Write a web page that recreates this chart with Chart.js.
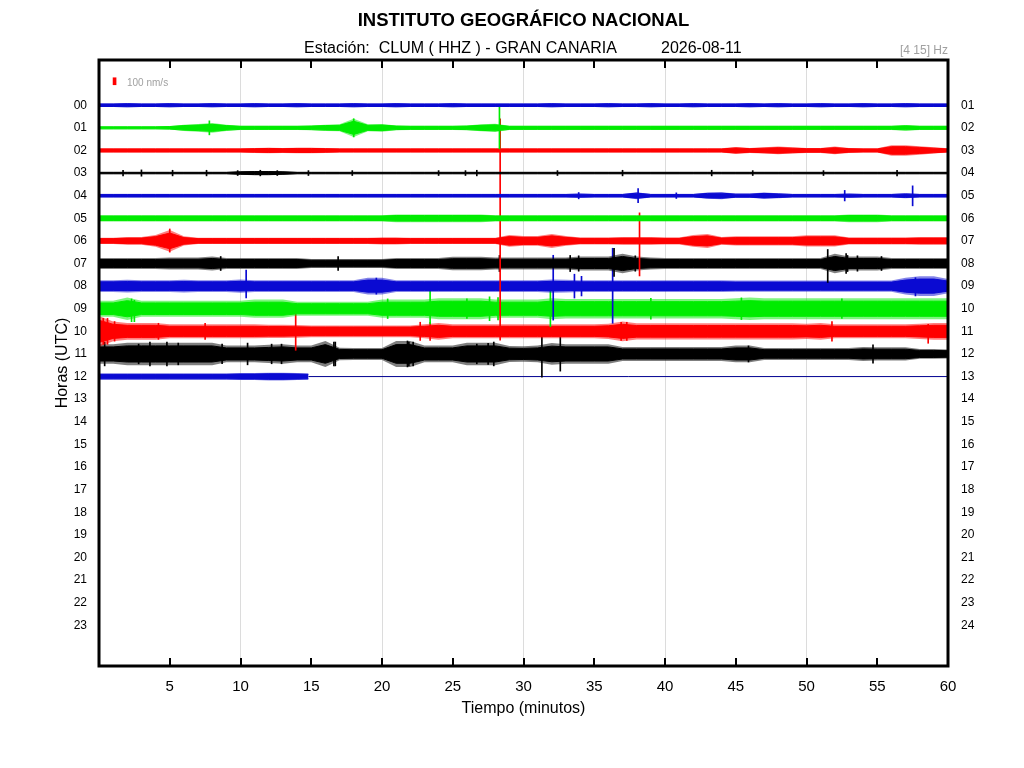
<!DOCTYPE html>
<html>
<head>
<meta charset="utf-8">
<title>Helicorder CLUM</title>
<script src="https://cdn.jsdelivr.net/npm/chart.js@4.4.1/dist/chart.umd.min.js"></script>
<style>
  html, body { margin: 0; padding: 0; background: #fff; }
  canvas { display: block; }
</style>
</head>
<body>
<canvas id="heli" width="1024" height="768"></canvas>
<script>
// sample times (minutes) of the trace envelopes
const minutes = [0,1,2,3,4,5,6,7,8,9,10,11,12,13,14,15,16,17,18,19,20,
  21,22,23,24,25,26,27,28,29,30,31,32,33,34,35,36,37,38,39,40,
  41,42,43,44,45,46,47,48,49,50,51,52,53,54,55,56,57,58,59,60];
const minutes12 = [0,1,2,3,4,5,6,7,8,9,10,11,12,13,14,14.8];
const row12End = 14.8;

const xTicks = [0,5,10,15,20,25,30,35,40,45,50,55,60];
const hourValues = [0,1,2,3,4,5,6,7,8,9,10,11,12,13,14,15,16,17,18,19,20,21,22,23];
const hourLabelsLeft = ['00','01','02','03','04','05','06','07','08','09','10','11',
  '12','13','14','15','16','17','18','19','20','21','22','23'];
const hourLabelsRight = ['01','02','03','04','05','06','07','08','09','10','11','12',
  '13','14','15','16','17','18','19','20','21','22','23','24'];

// half amplitude of each trace (nm/s), one value per minute
const amp00 = [25,25,30,25,25,30,25,25,30,25, 25,30,25,25,30,25,25,25,30,25,
  25,30,25,25,25,30,25,25,25,25, 25,25,30,25,25,25,30,25,25,30,
  25,25,30,25,25,25,30,25,30,25, 25,30,25,25,30,25,25,30,25,25, 25];
const amp01 = [20,20,20,20,20,25,45,55,70,45, 30,30,30,30,30,35,45,50,130,50,
  55,35,30,30,30,30,35,50,60,30, 30,30,30,30,30,30,30,30,30,30,
  30,30,30,30,30,30,30,30,30,30, 30,30,30,30,30,30,30,40,30,30, 30];
const amp02 = [30,30,30,30,30,30,30,30,30,30, 30,35,40,35,40,40,35,30,30,30,
  30,30,30,30,30,30,30,30,30,30, 30,30,30,30,30,30,30,30,30,30,
  30,30,30,30,30,50,35,45,55,45, 35,35,55,35,30,30,75,75,60,45, 30];
const amp03 = [15,15,15,15,15,15,15,15,15,15, 25,30,30,25,15,15,15,15,15,15,
  15,15,15,15,15,15,15,15,15,15, 15,15,15,15,15,15,15,15,15,15,
  15,15,15,15,15,15,15,15,15,15, 15,15,15,15,15,15,15,15,15,15, 15];
const amp04 = [25,25,25,25,25,25,25,25,25,25, 25,25,25,25,25,25,25,25,25,25,
  25,25,25,25,25,25,25,25,25,25, 25,25,25,25,30,25,25,25,50,25,
  25,25,25,45,50,30,30,45,35,25, 25,25,25,30,25,25,25,35,25,25, 25];
const amp05 = [45,45,45,45,45,45,45,45,45,45, 45,45,45,45,45,45,45,45,45,45,
  45,55,55,55,55,55,55,55,45,45, 45,45,45,45,45,45,45,45,45,45,
  45,45,45,45,45,45,45,45,45,45, 45,45,45,55,55,55,45,45,45,45, 45];
const amp06 = [45,45,55,55,85,155,65,45,45,45, 45,45,45,45,45,45,45,45,45,45,
  50,50,45,45,45,45,45,45,45,85, 70,70,100,70,50,50,50,55,55,55,
  50,50,85,100,55,65,65,65,65,65, 80,80,80,50,50,50,50,50,55,55, 55];
const amp07 = [80,80,80,80,80,85,85,85,100,80, 80,80,80,80,80,65,65,65,65,65,
  65,80,80,80,80,95,95,95,85,85, 85,85,85,85,100,100,100,140,100,85,
  80,80,80,80,80,80,80,80,80,80, 80,80,140,100,100,100,80,80,80,80, 80];
const amp08 = [85,85,90,85,85,85,90,85,85,85, 95,85,85,85,85,85,85,85,85,120,
  120,85,85,85,85,85,85,85,85,85, 85,85,95,90,85,85,85,85,85,85,
  85,85,85,85,85,80,80,80,80,80, 80,80,80,80,80,80,80,120,140,140, 100];
const amp09 = [115,115,160,115,115,115,115,115,115,115, 115,130,130,130,100,100,100,100,100,100,
  130,130,130,130,150,150,150,150,130,130, 130,130,150,140,140,140,140,140,140,140,
  140,140,140,140,140,150,160,150,150,150, 150,150,150,150,150,150,150,150,150,150, 150];
const amp10 = [220,140,120,120,120,100,100,100,100,100, 100,100,95,95,90,85,85,85,85,85,
  85,85,85,100,120,100,100,100,100,100, 100,100,100,100,100,100,110,140,115,115,
  115,115,115,115,115,115,115,115,115,115, 110,120,100,100,100,100,100,100,110,120, 120];
const amp11 = [140,140,160,160,160,160,160,160,160,120, 120,120,130,140,120,120,185,90,85,85,
  85,185,185,120,120,120,160,160,160,115, 110,120,155,140,140,140,140,100,100,100,
  100,100,100,100,100,120,120,85,85,85, 85,85,85,85,100,95,95,95,70,70, 65];
const amp12 = [45,45,45,45,45,45,45,45,45,45,50,50,55,55,50,45];

// sharp arrivals: [minute, up nm/s, down nm/s]
const spikes00 = [];
const spikes01 = [[7.8,100,100],[18.0,130,130],[28.3,315,300]];
const spikes02 = [];
const spikes03 = [[1.7,40,40],[3.0,45,45],[5.2,40,40],[7.6,40,40],[9.8,35,35],[11.4,40,40],
  [12.6,35,35],[14.8,35,35],[17.9,35,35],[24.0,35,35],[25.9,35,35],[26.7,40,40],
  [32.4,35,35],[37.0,40,40],[43.3,40,40],[46.2,35,35],[51.2,35,35],[56.4,40,40]];
const spikes04 = [[33.9,45,45],[38.1,100,100],[40.8,40,40],[52.7,75,75],[57.5,140,145]];
const spikes05 = [];
const spikes06 = [[5.0,170,160],[28.35,1740,1415],[38.2,400,500]];
const spikes07 = [[8.6,100,100],[16.9,100,100],[28.3,115,115],[33.3,115,115],[33.9,110,110],
  [36.4,215,185],[37.9,110,110],[51.5,200,270],[52.8,140,140],[52.9,115,115],[53.6,110,110],[55.3,100,100]];
const spikes08 = [[10.4,230,170],[19.6,115,115],[32.1,440,485],[33.6,170,170],[34.1,140,140],
  [36.3,540,530],[57.7,120,140]];
const spikes09 = [[2.3,140,185],[2.5,120,185],[20.4,140,140],[23.4,285,215],[26.0,140,140],
  [27.6,170,170],[28.2,160,160],[31.9,270,255],[39.0,150,150],[45.4,155,155],[52.5,140,140]];
const spikes10 = [[0.3,185,185],[0.6,185,185],[1.1,140,140],[4.2,115,115],[7.5,115,115],
  [13.9,400,270],[22.7,130,130],[23.4,130,130],[36.9,130,130],[37.3,130,130],[51.8,140,140],[58.6,100,170]];
const spikes11 = [[0.4,170,170],[2.8,140,140],[3.6,170,170],[4.8,170,170],[5.6,155,155],[8.7,140,140],
  [10.5,155,155],[12.2,140,140],[12.9,140,140],[16.6,170,170],[16.7,170,170],[21.8,185,185],[21.9,170,170],
  [22.2,170,170],[26.7,140,140],[27.5,150,150],[27.9,170,170],[31.3,315,330],[32.6,245,245],
  [45.9,115,115],[54.7,130,130]];
const spikes12 = [];

const scaleBarNms = 100;
const unitsPerNms = 0.31 / 100;   // 100 nm/s is about 0.31 of a row spacing
const coreShare = 0.72;           // dense part of the wiggles, drawn solid

const BLUE = [10, 10, 210], GREEN = [0, 236, 0], RED = [255, 0, 0], BLACK = [0, 0, 0];
const FONT = '"Liberation Sans", Arial, sans-serif';

function rgba(c, a) { return 'rgba(' + c[0] + ',' + c[1] + ',' + c[2] + ',' + a + ')'; }

const rows = [
  [0, BLUE, amp00, spikes00], [1, GREEN, amp01, spikes01], [2, RED, amp02, spikes02],
  [3, BLACK, amp03, spikes03], [4, BLUE, amp04, spikes04], [5, GREEN, amp05, spikes05],
  [6, RED, amp06, spikes06], [7, BLACK, amp07, spikes07], [8, BLUE, amp08, spikes08],
  [9, GREEN, amp09, spikes09], [10, RED, amp10, spikes10], [11, BLACK, amp11, spikes11],
  [12, BLUE, amp12, spikes12]
];

function band(t, hour, amp, share, sign) {
  return t.map(function(m, i) { return {x: m, y: hour + sign * amp[i] * share * unitsPerNms}; });
}

const datasets = [];
rows.forEach(function(r) {
  const hour = r[0], color = r[1], amp = r[2], spikes = r[3];
  const t = hour === 12 ? minutes12 : minutes;
  // outer envelope: the sparse peaks, lighter
  datasets.push({
    type: 'line', xAxisID: 'x', yAxisID: 'y', data: band(t, hour, amp, 1, -1),
    borderWidth: 0, borderColor: 'rgba(0,0,0,0)', pointRadius: 0, tension: 0, fill: false
  });
  datasets.push({
    type: 'line', xAxisID: 'x', yAxisID: 'y', data: band(t, hour, amp, 1, 1),
    borderWidth: 0, borderColor: 'rgba(0,0,0,0)', backgroundColor: rgba(color, 0.5),
    pointRadius: 0, tension: 0, fill: '-1'
  });
  // dense core
  datasets.push({
    type: 'line', xAxisID: 'x', yAxisID: 'y', data: band(t, hour, amp, coreShare, -1),
    borderColor: rgba(color, 1), borderWidth: 1, pointRadius: 0, tension: 0, fill: false
  });
  datasets.push({
    type: 'line', xAxisID: 'x', yAxisID: 'y', data: band(t, hour, amp, coreShare, 1),
    borderColor: rgba(color, 1), backgroundColor: rgba(color, 1), borderWidth: 1,
    pointRadius: 0, tension: 0, fill: '-1'
  });
  if (spikes.length) {
    datasets.push({
      type: 'bar', xAxisID: 'x', yAxisID: 'y',
      data: spikes.map(function(s) {
        return {x: s[0], y: [hour - s[1] * unitsPerNms, hour + s[2] * unitsPerNms]};
      }),
      backgroundColor: rgba(color, 1), borderWidth: 0, barThickness: 1, grouped: false
    });
  }
});

// hour 12 is still recording: flat line up to the end of the hour
datasets.push({
  type: 'line', xAxisID: 'x', yAxisID: 'y',
  data: [{x: row12End, y: 12}, {x: 60, y: 12}],
  borderColor: '#000090', borderWidth: 1, pointRadius: 0, fill: false
});

// amplitude scale bar
datasets.push({
  type: 'bar', xAxisID: 'x', yAxisID: 'y',
  data: [{x: 1.1, y: [-1.06 - scaleBarNms * unitsPerNms / 2, -1.06 + scaleBarNms * unitsPerNms / 2]}],
  backgroundColor: rgba(RED, 1), borderWidth: 0, barThickness: 3, grouped: false
});

const heliDecor = {
  id: 'heliDecor',
  afterDraw: function(chart) {
    const ctx = chart.ctx, a = chart.chartArea, xs = chart.scales.x;
    ctx.save();
    ctx.strokeStyle = '#000';
    ctx.lineWidth = 3;
    ctx.strokeRect(a.left, a.top, a.right - a.left, a.bottom - a.top);
    ctx.lineWidth = 2;
    xTicks.forEach(function(v) {
      if (v <= 0 || v >= 60) return;
      const px = Math.round(xs.getPixelForValue(v));
      ctx.beginPath();
      ctx.moveTo(px, a.top); ctx.lineTo(px, a.top + 8);
      ctx.moveTo(px, a.bottom); ctx.lineTo(px, a.bottom - 8);
      ctx.stroke();
    });

    ctx.fillStyle = '#000';
    ctx.textBaseline = 'alphabetic';
    ctx.textAlign = 'center';
    ctx.font = 'bold 18.5px ' + FONT;
    ctx.fillText('INSTITUTO GEOGRÁFICO NACIONAL', (a.left + a.right) / 2, 26);
    ctx.textAlign = 'left';
    ctx.font = '16px ' + FONT;
    ctx.fillText('Estación:  CLUM ( HHZ ) - GRAN CANARIA', 304, 52.5);
    ctx.fillText('2026-08-11', 661, 52.5);

    ctx.fillStyle = '#a0a0a0';
    ctx.textAlign = 'right';
    ctx.font = '12px ' + FONT;
    ctx.fillText('[4 15] Hz', a.right, 54);
    ctx.textAlign = 'left';
    ctx.font = '10px ' + FONT;
    ctx.fillText(scaleBarNms + ' nm/s', 127, 86);
    ctx.restore();
  }
};

const ctx = document.getElementById('heli').getContext('2d');
new Chart(ctx, {
  type: 'line',
  data: { datasets: datasets },
  options: {
    responsive: false,
    animation: false,
    events: [],
    layout: { padding: 0 },
    plugins: { legend: { display: false }, tooltip: { enabled: false } },
    scales: {
      x: {
        type: 'linear', position: 'bottom', min: 0, max: 60, offset: false,
        afterBuildTicks: function(s) { s.ticks = xTicks.map(function(v) { return {value: v}; }); },
        afterFit: function(s) { s.height = 102; },
        ticks: {
          padding: 12, color: '#000', autoSkip: false, maxRotation: 0,
          font: { family: FONT, size: 15 },
          callback: function(v) { return v === 0 ? '' : String(v); }
        },
        grid: {
          offset: false, drawTicks: false, lineWidth: 1,
          color: function(c) {
            const v = c.tick ? c.tick.value : 0;
            return (v % 10 === 0 && v > 0 && v < 60) ? '#dcdcdc' : 'rgba(0,0,0,0)';
          }
        },
        border: { display: false },
        title: { display: true, text: 'Tiempo (minutos)', color: '#000',
          font: { family: FONT, size: 16 }, padding: { top: 0, bottom: 50 } }
      },
      xTop: {
        type: 'linear', position: 'top', min: 0, max: 60, display: true,
        ticks: { display: false }, grid: { display: false }, border: { display: false },
        afterFit: function(s) { s.height = 60; }
      },
      y: {
        type: 'linear', position: 'left', min: -2, max: 24.8, reverse: true,
        afterBuildTicks: function(s) { s.ticks = hourValues.map(function(v) { return {value: v}; }); },
        afterFit: function(s) { s.width = 99; },
        ticks: {
          padding: 4, color: '#000', autoSkip: false,
          font: { family: FONT, size: 12 },
          callback: function(v) { return hourLabelsLeft[v]; }
        },
        grid: { display: false },
        border: { display: false },
        title: { display: true, text: 'Horas (UTC)', color: '#000',
          font: { family: FONT, size: 16 }, padding: { top: 53 } }
      },
      y2: {
        type: 'linear', position: 'right', min: -2, max: 24.8, reverse: true,
        afterBuildTicks: function(s) { s.ticks = hourValues.map(function(v) { return {value: v}; }); },
        afterFit: function(s) { s.width = 76; },
        ticks: {
          padding: 5, color: '#000', autoSkip: false,
          font: { family: FONT, size: 12 },
          callback: function(v) { return hourLabelsRight[v]; }
        },
        grid: { display: false },
        border: { display: false }
      }
    }
  },
  plugins: [heliDecor]
});
</script>
</body>
</html>
